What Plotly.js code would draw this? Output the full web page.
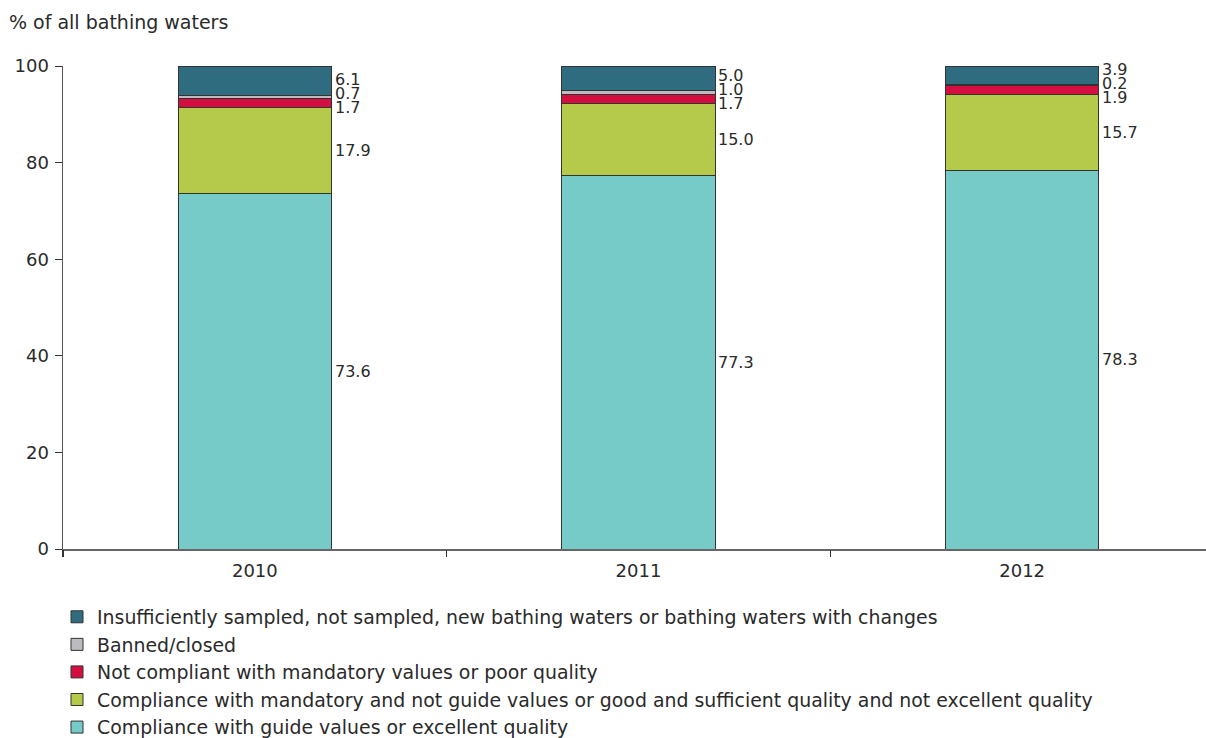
<!DOCTYPE html>
<html>
<head>
<meta charset="utf-8">
<script src="https://cdn.plot.ly/plotly-3.0.1.min.js"></script>
<style>
html,body{margin:0;padding:0;overflow:hidden;background:#fff;}
#chart{width:1214px;height:738px;}
</style>
</head>
<body>
<div id="chart"></div>
<script>
var years = ['2010', '2011', '2012'];
var seriesNames = [
  'Compliance with guide values or excellent quality',
  'Compliance with mandatory and not guide values or good and sufficient quality and not excellent quality',
  'Not compliant with mandatory values or poor quality',
  'Banned/closed',
  'Insufficiently sampled, not sampled, new bathing waters or bathing waters with changes'
];
var excellent    = [73.6, 77.3, 78.3];
var good         = [17.9, 15.0, 15.7];
var poor         = [1.7, 1.7, 1.9];
var banned       = [0.7, 1.0, 0.2];
var insufficient = [6.1, 5.0, 3.9];
var colors = ['#76cac8', '#b5ca4b', '#d40f40', '#bcbcc0', '#2f6c80'];

var series = [excellent, good, poor, banned, insufficient];
var FONT = 'DejaVu Sans, Verdana, sans-serif';
var TXT = '#2a2a2a';

var traces = series.map(function (vals, k) {
  return {
    type: 'bar',
    name: seriesNames[k],
    x: [0, 1, 2],
    y: vals,
    width: 0.4,
    marker: {color: colors[k], line: {color: '#333333', width: 1}},
    hoverinfo: 'y+name'
  };
});

// Labels: large segments at their midpoint; the three small top segments stacked 14px apart around their mean midpoint
var annotations = [];
years.forEach(function (yr, i) {
  var cum = 0;
  var mids = [];
  series.forEach(function (vals) {
    mids.push(cum + vals[i] / 2);
    cum += vals[i];
  });
  [0, 1].forEach(function (k) {
    annotations.push({
      x: i + 0.2, y: mids[k], xref: 'x', yref: 'y',
      text: series[k][i].toFixed(1), showarrow: false,
      xanchor: 'left', yanchor: 'middle', xshift: 1,
      font: {family: FONT, size: 16, color: TXT}
    });
  });
  var mean = (mids[2] + mids[3] + mids[4]) / 3;
  [2, 3, 4].forEach(function (k, j) {
    annotations.push({
      x: i + 0.2, y: mean, xref: 'x', yref: 'y',
      text: series[k][i].toFixed(1), showarrow: false,
      xanchor: 'left', yanchor: 'middle', xshift: 1, yshift: (j - 1) * 14,
      font: {family: FONT, size: 16, color: TXT}
    });
  });
});

var layout = {
  width: 1214, height: 738,
  margin: {l: 63, r: 0, t: 66, b: 189, autoexpand: false},
  paper_bgcolor: '#ffffff', plot_bgcolor: '#ffffff',
  barmode: 'stack',
  font: {family: FONT, size: 16, color: TXT},
  title: {
    text: '% of all bathing waters',
    x: 9 / 1214, xanchor: 'left', xref: 'container',
    y: 1 - 22 / 738, yanchor: 'middle', yref: 'container',
    font: {family: FONT, size: 19, color: TXT}
  },
  xaxis: {
    type: 'linear',
    range: [-0.5, 2.5],
    tickmode: 'array',
    tickvals: [0, 1, 2],
    ticktext: years,
    ticks: '',
    ticklabelstandoff: 5,
    showline: true, linecolor: '#666666', linewidth: 1.5,
    showgrid: false, zeroline: false,
    tickfont: {family: FONT, size: 18, color: TXT}
  },
  xaxis2: {
    overlaying: 'x', matches: 'x', range: [-0.5, 2.5],
    tickmode: 'array', tickvals: [-0.5, 0.5, 1.5, 2.5], showticklabels: false,
    ticks: 'outside', ticklen: 7, tickcolor: '#333333', tickwidth: 1.5,
    showline: false, showgrid: false, zeroline: false
  },
  yaxis: {
    range: [0, 100],
    tickvals: [0, 20, 40, 60, 80, 100],
    ticks: 'outside', ticklen: 7, tickcolor: '#333333', tickwidth: 1,
    ticklabelstandoff: 2,
    showline: true, linecolor: '#555555', linewidth: 1.5,
    showgrid: false, zeroline: false,
    tickfont: {family: FONT, size: 18, color: TXT}
  },
  showlegend: true,
  legend: {
    orientation: 'v', traceorder: 'reversed',
    x: -6 / 1151, xanchor: 'left', xref: 'paper',
    y: 1 - 598 / 738, yanchor: 'top', yref: 'container',
    font: {family: FONT, size: 18.9, color: TXT},
    bgcolor: 'rgba(0,0,0,0)'
  },
  annotations: annotations
};

// invisible trace to activate the secondary x axis for boundary ticks
traces.push({type: 'scatter', x: [0], y: [0], xaxis: 'x2', mode: 'markers',
  marker: {opacity: 0}, showlegend: false, hoverinfo: 'skip'});

Plotly.newPlot('chart', traces, layout, {displayModeBar: false, staticPlot: true});
</script>
</body>
</html>
